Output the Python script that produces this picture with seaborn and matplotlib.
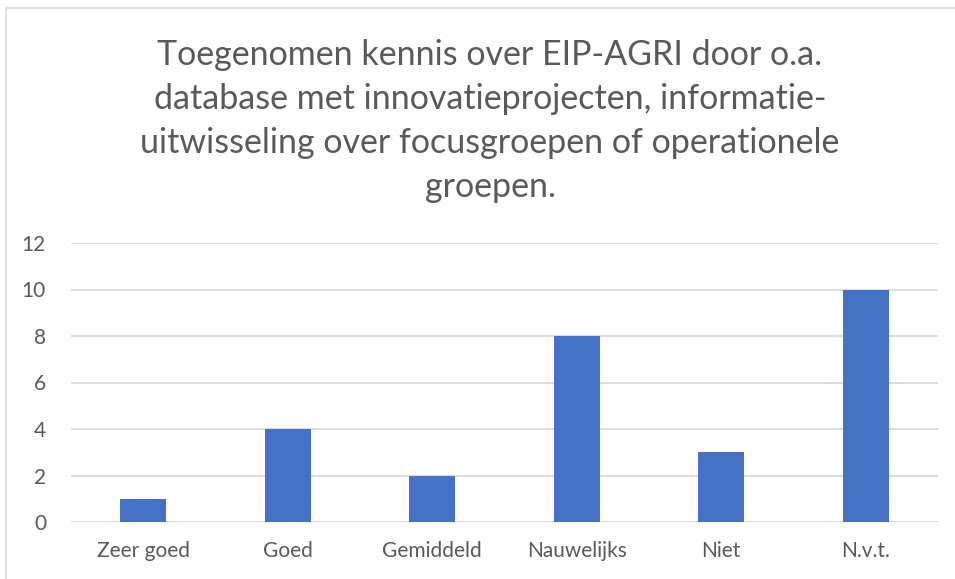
import pandas as pd
import seaborn as sns
import matplotlib.pyplot as plt
from matplotlib.patches import Rectangle

# answers per category
categories = ['Zeer goed', 'Goed', 'Gemiddeld', 'Nauwelijks', 'Niet', 'N.v.t.']
counts = [1, 4, 2, 8, 3, 10]
yticks = [0, 2, 4, 6, 8, 10, 12]
title = ('Toegenomen kennis over EIP-AGRI door o.a.\n'
         'database met innovatieprojecten, informatie-\n'
         'uitwisseling over focusgroepen of operationele\n'
         'groepen.')

df = pd.DataFrame({'cat': categories, 'n': counts})

sns.set_style('white')
plt.rcParams['font.family'] = ['Lato', 'DejaVu Sans']

fig = plt.figure(figsize=(9.55, 5.79), dpi=100)
ax = fig.add_axes([71 / 955, 1 - 522 / 579, (938 - 71) / 955, (522 - 243) / 579])

sns.barplot(data=df, x='cat', y='n', color='#4472C4', saturation=1, width=0.32,
            edgecolor='none', ax=ax, zorder=3)

ax.set_ylim(0, 12)
ax.set_yticks(yticks)
ax.set_xlim(-0.5, len(categories) - 0.5)
ax.yaxis.grid(True, color='#d9d9d9', linewidth=1.3, zorder=0)
ax.set_axisbelow(True)
for s in ax.spines.values():
    s.set_visible(False)
ax.tick_params(axis='both', length=0, labelsize=15, colors='#595959')
ax.tick_params(axis='x', pad=14)
ax.tick_params(axis='y', pad=18)
ax.set_xlabel('')
ax.set_ylabel('')

fig.text(490 / 955, 1 - 121 / 579, title, ha='center', va='center', fontsize=24.5,
         color='#595959', linespacing=1.45)

# chart border
fig.patches.append(Rectangle((6 / 955, -0.1), 1.2, 1 - 8 / 579 + 0.1, transform=fig.transFigure,
                             fill=False, edgecolor='#d9d9d9', linewidth=1.2))

fig.savefig('out.png', dpi=100)
